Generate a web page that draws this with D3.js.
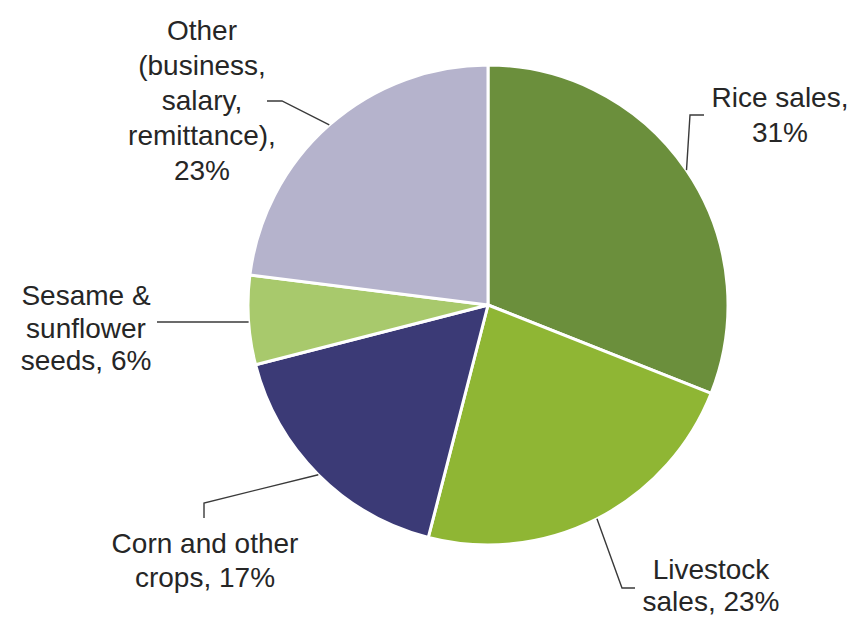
<!DOCTYPE html>
<html>
<head>
<meta charset="utf-8">
<script src="https://cdn.jsdelivr.net/npm/d3@7"></script>
<style>
  html, body { margin: 0; padding: 0; background: #ffffff; }
  svg { display: block; }
  text { font-family: "Liberation Sans", Arial, sans-serif; }
</style>
</head>
<body>
<svg id="chart" width="866" height="618"></svg>
<script>
// Household income sources (share of total, %)
const categories = [
  "Rice sales",
  "Livestock sales",
  "Corn and other crops",
  "Sesame & sunflower seeds",
  "Other (business, salary, remittance)"
];
const values = [31, 23, 17, 6, 23];
const colors = ["#6b8f3c", "#8fb634", "#3b3a76", "#a8c96c", "#b5b3cc"];

// Label text broken into lines (the percentage comes from values)
const labelLines = [
  ["Rice sales,", "{v}"],
  ["Livestock", "sales, {v}"],
  ["Corn and other", "crops, {v}"],
  ["Sesame &", "sunflower", "seeds, {v}"],
  ["Other", "(business,", "salary,", "remittance),", "{v}"]
];

// Layout
const W = 866, H = 618;
const cx = 488, cy = 305, R = 240;
const fontSize = 28;

// Label placement: centre x, first baseline y, line step
const labelPos = [
  { x: 780, y: 107, step: 35 },
  { x: 711, y: 579, step: 32 },
  { x: 205, y: 553, step: 34 },
  { x: 86,  y: 305, step: 32.5 },
  { x: 202, y: 40,  step: 35 }
];
// Leader line elbows (from the label side), the last point is on the pie rim
const leaderStart = [
  [[704, 115], [690, 115]],
  [[635, 588], [622, 588]],
  [[204, 518], [204, 503]],
  [[157, 322]],
  [[267, 101], [282, 101]]
];

const svg = d3.select("#chart");
const g = svg.append("g").attr("transform", `translate(${cx},${cy})`);

const pie = d3.pie().sort(null).value(d => d).startAngle(0).endAngle(2 * Math.PI);
const arcs = pie(values);
const arc = d3.arc().innerRadius(0).outerRadius(R);

g.selectAll("path.slice")
  .data(arcs)
  .enter().append("path")
  .attr("class", "slice")
  .attr("d", arc)
  .attr("fill", (d, i) => colors[i])
  .attr("stroke", "#ffffff")
  .attr("stroke-width", 3)
  .attr("stroke-linejoin", "round");

// Rim point for a leader line: the slice's mid angle, except when the
// line runs straight across to the rim (single horizontal segment)
function rimPoint(d, i) {
  const pts = leaderStart[i];
  if (pts.length === 1) {
    const y = pts[0][1] - cy;
    const dx = Math.sqrt(R * R - y * y);
    return [cx - dx, cy + y];
  }
  const a = (d.startAngle + d.endAngle) / 2;
  return [cx + R * Math.sin(a), cy - R * Math.cos(a)];
}

const line = d3.line();
svg.selectAll("path.leader")
  .data(arcs)
  .enter().append("path")
  .attr("class", "leader")
  .attr("d", (d, i) => line(leaderStart[i].concat([rimPoint(d, i)])))
  .attr("fill", "none")
  .attr("stroke", "#3a3a3a")
  .attr("stroke-width", 1.4);

const labels = svg.selectAll("text.label")
  .data(arcs)
  .enter().append("text")
  .attr("class", "label")
  .attr("text-anchor", "middle")
  .attr("font-size", fontSize)
  .attr("fill", "#262626");

labels.each(function(d, i) {
  const t = d3.select(this);
  const p = labelPos[i];
  labelLines[i].forEach((ln, k) => {
    t.append("tspan")
      .attr("x", p.x)
      .attr("y", p.y + k * p.step)
      .text(ln.replace("{v}", values[i] + "%"));
  });
});
</script>
</body>
</html>
